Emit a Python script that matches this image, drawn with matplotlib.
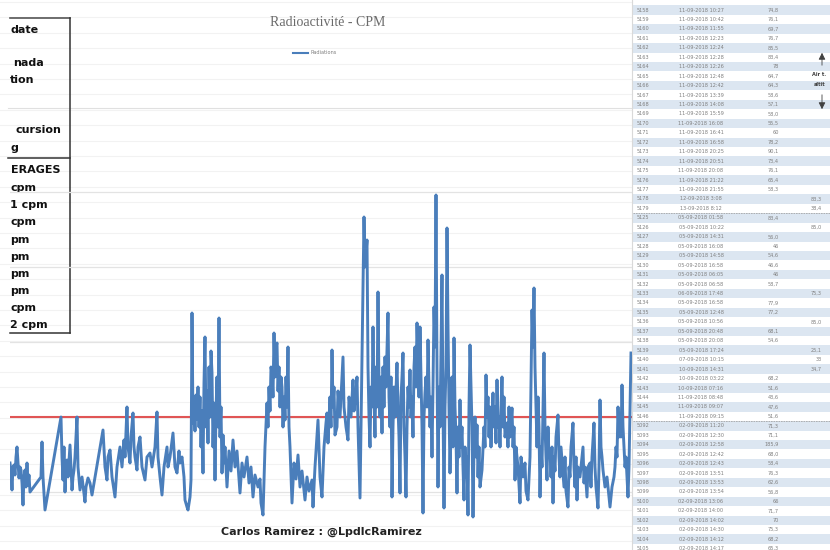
import matplotlib.pyplot as plt

# ---- data ----
# position along the record (time index) and counts per minute, in chunks
t1 = [0, 1, 2, 3, 4, 5, 6, 7, 8, 9, 10, 11, 12, 13, 14, 15, 16, 17, 18, 19,
      20, 31, 32, 33, 35, 51, 52, 53, 54, 55, 56, 57, 58, 60, 61, 62, 63, 64, 65, 67,
      68, 70, 72, 75, 76, 78, 80, 82, 93, 95, 97, 98, 100, 102, 105, 107, 110, 112, 114, 115,
      117, 118, 120, 121, 123, 124, 125, 127, 128, 130, 132, 135, 137, 140, 142, 145, 147, 148, 150, 152,
      154, 157, 158, 160, 163, 165, 167, 169, 170, 172, 174, 175, 177, 178, 180, 181]
c1 = [52, 48, 38.5, 50, 51, 46, 55, 60, 52, 44.5, 50, 48.5, 42, 31, 45, 48.5, 40, 52, 41, 46,
      37.5, 45, 62.5, 45, 28.5, 75, 55, 43.5, 60, 37.5, 50, 53.5, 45, 61, 50, 38.5, 45, 48.5, 55, 75,
      50, 38.5, 45, 32.5, 40, 44.5, 42, 36, 68.5, 50, 43.5, 55, 58.5, 45, 35, 50, 60, 50, 63.5, 55,
      80, 60, 52, 65, 77, 60, 55, 48.5, 60, 65, 50, 43.5, 55, 57, 50, 60, 77.5, 55, 45, 36,
      50, 60, 50, 55, 67, 50, 47, 58, 52, 55, 45, 33.5, 30, 28.5, 35, 43.5]

t2 = [182, 183, 184, 185, 186, 187, 188, 189, 190, 191, 192, 193, 194, 195, 196, 197, 198, 199, 200, 201,
      202, 203, 204, 205, 206, 207, 208, 209, 210, 211, 212, 213, 214, 215, 217, 219, 221, 223, 225, 227,
      230, 232, 234, 237, 239, 241, 243, 245, 248, 250, 251, 253]
c2 = [127, 72, 80, 68, 86, 74, 90, 70, 85, 60, 78, 47, 92, 115, 70, 88, 62, 100, 75, 108,
      97, 60, 82, 43.5, 78, 95, 70, 124.5, 65, 80, 47, 66, 52, 60, 40, 58, 48, 63.5, 50, 58,
      37, 52, 45, 55, 42, 50, 35, 46, 40, 44, 32, 26]

t3 = [255, 257, 258, 259, 260, 261, 262, 263, 264, 265, 266, 267, 268, 269, 270, 271, 272, 273, 274, 275,
      276, 277, 278, 279, 280, 282, 284, 286, 288, 290, 292, 295, 297, 299, 302, 303, 305, 308, 310, 312,
      314, 316, 317, 318, 320, 321, 322, 323, 324, 325, 327, 328, 330, 333, 334, 336, 338, 339, 341, 343,
      344, 346, 347, 348, 350]
c3 = [60, 82, 70, 90, 78, 100, 97, 85, 117, 95, 110, 112, 88, 100, 80, 95, 90, 70, 85, 73.5,
      95, 80, 110, 70, 60, 32, 52, 44, 56, 40, 48, 33.5, 45, 38, 43.5, 30, 50, 73.5, 45, 35,
      60, 72, 77, 62, 85, 70, 108.5, 80, 90, 66, 70, 88, 75, 105, 80, 70, 63.5, 85, 75, 93.5,
      78, 88, 95, 70, 34.5]

t4 = [354, 355, 357, 358, 359, 360, 361, 362, 363, 364, 365, 366, 367, 368, 369, 370, 371, 372, 373, 374,
      375, 376, 378, 379, 380, 381, 382, 383, 384, 385, 387, 388, 389, 390, 391, 392, 393, 394, 395, 396,
      397, 398, 399, 400, 401, 402, 403, 404, 405, 406, 407, 408, 409, 410, 411, 412, 413, 414, 415, 416,
      417, 418, 419, 420, 421, 422, 423, 424, 425, 426, 427, 428, 429, 430, 431, 432, 433, 434, 435, 436,
      437, 438, 439, 440, 441, 442, 443, 444, 445, 446, 447, 448, 449, 450, 451, 452, 453, 454, 455, 456,
      457, 458, 459, 460, 461, 462, 463, 464, 465, 466, 467, 468, 469, 470, 472]
c4 = [175, 150, 163.5, 100, 75, 60, 90, 80, 120, 85, 65, 100, 80, 137.5, 90, 75, 95, 67, 100, 80,
      105, 90, 127, 85, 70, 95, 35, 70, 90, 75, 102, 80, 65, 37, 85, 95, 107, 70, 55, 35,
      70, 90, 80, 98.5, 75, 85, 65, 100, 110, 90, 122, 105, 85, 120, 95, 70, 27, 75, 87, 95,
      80, 113.5, 90, 70, 85, 55, 90, 130, 110, 186, 100, 40, 90, 70, 110, 146, 80, 29.5, 80, 100,
      169.5, 120, 80, 47, 70, 95, 60, 114.5, 80, 65, 37, 70, 55, 83.5, 60, 70, 50, 33.5, 60, 45,
      55, 26, 80, 111, 90, 70, 25, 60, 75, 55, 71, 45, 60, 40, 48.5]

t5 = [474, 475, 476, 477, 478, 479, 480, 481, 482, 483, 484, 485, 486, 487, 488, 489, 490, 491, 492, 493,
      494, 495, 497, 498, 499, 500, 502, 503, 504, 505, 506, 508, 510, 511, 513, 515, 516, 518, 520, 521,
      522, 523, 524, 525, 526, 527, 528, 529, 530]
c5 = [70, 60, 96, 75, 85, 65, 80, 60, 75, 87, 70, 80, 62, 93.5, 70, 75, 60, 80, 95, 70,
      85, 65, 72, 60, 80, 65, 79.5, 60, 70, 43.5, 60, 50, 32, 55, 45, 52, 38, 33.5, 55, 90,
      128.5, 110, 139.5, 100, 80, 60, 85, 70, 35]

t6 = [531, 532, 533, 534, 535, 536, 537, 538, 539, 540, 541, 542, 543, 544, 545, 546, 548, 549, 550, 551,
      553, 554, 555, 556, 558, 559, 560, 561, 563, 564, 565, 566, 567, 568, 570, 572, 573, 574, 575, 577,
      578, 580, 581, 582, 584, 585, 586, 588, 589, 590, 591, 592, 593, 595, 597, 599, 600, 602, 604, 605,
      606, 607, 608, 609, 610, 611, 612, 613, 614, 615, 616, 617, 618, 619, 620, 621]
c6 = [60, 50, 80, 107, 70, 55, 43.5, 70, 55, 58.5, 45, 60, 32, 55, 48, 65, 76, 55, 45, 60,
      47, 40, 55, 38, 30, 50, 45, 60, 72, 50, 40, 55, 33.5, 50, 45, 55, 60, 42, 50, 35,
      50, 52, 40, 55, 72, 50, 40, 29.5, 50, 83.5, 60, 55, 48.5, 40, 45, 35, 30, 40, 45, 50,
      60, 55, 80, 65, 75, 65, 91, 70, 60, 50, 55, 45, 35, 50, 80, 107]

t = t1 + t2 + t3 + t4 + t5 + t6
cpm = c1 + c2 + c3 + c4 + c5 + c6
cpm_average = 75
grid_levels = [37.5, 75, 112.5, 150, 187.5]

chart_title = "Radioactivité - CPM"
legend_label = "Radiations"
footer = "Carlos Ramirez : @LpdlcRamirez"

# what is left visible of the summary panel (its left part is off screen)
panel_labels = ["date", "nada", "tion", "cursion", "g", "ERAGES", "cpm", "1 cpm",
                "cpm", "pm", "pm", "pm", "pm", "cpm", "2 cpm"]
panel_rows = [30, 63, 80, 130, 148, 170, 188, 205, 222, 240, 257, 274, 291, 308, 325]
panel_x = {"nada": 13, "cursion": 15, "ERAGES": 11}

row_ids = ["5158", "5159", "5160", "5161", "5162", "5163", "5164", "5165", "5166", "5167",
           "5168", "5169", "5170", "5171", "5172", "5173", "5174", "5175", "5176", "5177",
           "5178", "5179", "5125", "5126", "5127", "5128", "5129", "5130", "5131", "5132",
           "5133", "5134", "5135", "5136", "5137", "5138", "5139", "5140", "5141", "5142",
           "5143", "5144", "5145", "5146", "5092", "5093", "5094", "5095", "5096", "5097",
           "5098", "5099", "5100", "5101", "5102", "5103", "5104", "5105"]
row_dates = ["11-09-2018 10:27", "11-09-2018 10:42", "11-09-2018 11:55", "11-09-2018 12:23",
             "11-09-2018 12:24", "11-09-2018 12:28", "11-09-2018 12:26", "11-09-2018 12:48",
             "11-09-2018 12:42", "11-09-2018 13:39", "11-09-2018 14:08", "11-09-2018 15:59",
             "11-09-2018 16:08", "11-09-2018 16:41", "11-09-2018 16:58", "11-09-2018 20:25",
             "11-09-2018 20:51", "11-09-2018 20:08", "11-09-2018 21:22", "11-09-2018 21:55",
             "12-09-2018 3:08", "13-09-2018 8:12", "05-09-2018 01:58", "05-09-2018 10:22",
             "05-09-2018 14:31", "05-09-2018 16:08", "05-09-2018 14:58", "05-09-2018 16:58",
             "05-09-2018 06:05", "05-09-2018 06:58", "06-09-2018 17:48", "05-09-2018 16:58",
             "05-09-2018 12:48", "05-09-2018 10:56", "05-09-2018 20:48", "05-09-2018 20:08",
             "05-09-2018 17:24", "07-09-2018 10:15", "10-09-2018 14:31", "10-09-2018 03:22",
             "10-09-2018 07:16", "11-09-2018 08:48", "11-09-2018 09:07", "11-09-2018 09:15",
             "02-09-2018 11:20", "02-09-2018 12:30", "02-09-2018 12:58", "02-09-2018 12:42",
             "02-09-2018 12:43", "02-09-2018 13:51", "02-09-2018 13:53", "02-09-2018 13:54",
             "02-09-2018 13:06", "02-09-2018 14:00", "02-09-2018 14:02", "02-09-2018 14:30",
             "02-09-2018 14:12", "02-09-2018 14:17"]
row_values = ["74,8", "76,1", "69,7", "76,7", "85,5", "83,4", "78", "64,7", "64,3", "58,6",
              "57,1", "58,0", "55,5", "60", "78,2", "90,1", "73,4", "76,1", "65,4", "58,3",
              "", "", "83,4", "", "56,0", "46", "54,6", "46,6", "46", "58,7",
              "", "77,9", "77,2", "", "68,1", "54,6", "", "", "", "68,2",
              "51,6", "43,6", "47,6", "51,6", "71,3", "71,1", "185,9", "68,0", "58,4", "76,3",
              "62,6", "56,8", "66", "71,7", "70", "75,3", "68,2", "65,3"]
row_extra = {20: "83,3", 21: "38,4", 23: "85,0", 30: "75,3", 33: "85,0",
             36: "25,1", 37: "33", 38: "34,7"}

fig = plt.figure(figsize=(8.3, 5.5), dpi=100)

# background sheet (pixel coordinates)
bg = fig.add_axes([0, 0, 1, 1])
bg.set_xlim(0, 830)
bg.set_ylim(550, 0)
bg.axis("off")

# faint spreadsheet rows behind the chart
y = 2
while y < 550:
    bg.plot([0, 632], [y, y], color="#f2f2f2", lw=0.8, zorder=0)
    y += 15.4

# right hand table
pitch = 9.45
for i, rid in enumerate(row_ids):
    yc = 10 + i * pitch
    if i % 2 == 0:
        bg.fill_between([633, 830], yc - pitch / 2, yc + pitch / 2, color="#dce6f1", lw=0, zorder=1)
    bg.text(637, yc, rid, fontsize=3.6, color="#7f7f7f", va="center", zorder=2)
    bg.text(701, yc, row_dates[i], fontsize=3.6, color="#7f7f7f", va="center", ha="center", zorder=2)
    bg.text(779, yc, row_values[i], fontsize=3.6, color="#7f7f7f", va="center", ha="right", zorder=2)
    if i in row_extra:
        bg.text(822, yc, row_extra[i], fontsize=3.6, color="#7f7f7f", va="center", ha="right", zorder=2)
for i in (22, 44):
    ys = 10 + (i - 0.5) * pitch
    bg.plot([633, 830], [ys, ys], color="#a6a6a6", lw=0.6, ls=(0, (2, 1)), zorder=2)
bg.plot([632, 632], [0, 550], color="#d9d9d9", lw=0.8, zorder=2)

# arrow note in the table
bg.annotate("", xy=(822, 50), xytext=(822, 68), arrowprops=dict(arrowstyle="-|>", color="#404040", lw=0.6))
bg.annotate("", xy=(822, 112), xytext=(822, 92), arrowprops=dict(arrowstyle="-|>", color="#404040", lw=0.6))
bg.text(812, 75, "Air t.", fontsize=3.6, color="#404040", fontweight="bold", va="center")
bg.text(814, 84, "altit", fontsize=3.6, color="#404040", fontweight="bold", va="center")

# left summary panel
for lab, yr in zip(panel_labels, panel_rows):
    bg.text(panel_x.get(lab, 10), yr, lab, fontsize=8, fontweight="bold", color="#111111",
            va="center", zorder=3)
bg.plot([10, 70], [18, 18], color="#555555", lw=1.2, zorder=3)
bg.plot([70, 70], [18, 333], color="#333333", lw=1.1, zorder=3)
bg.plot([10, 70], [333, 333], color="#333333", lw=1.1, zorder=3)
bg.plot([8, 70], [158, 158], color="#333333", lw=1.1, zorder=3)
bg.plot([8, 632], [108, 108], color="#e0e0e0", lw=0.8, zorder=1)

# chart
ax = fig.add_axes([10 / 830, 20 / 550, 622 / 830, 350 / 550])
ax.patch.set_alpha(0)
for lv in grid_levels:
    ax.axhline(lv, color="#e3e3e3", lw=0.9, zorder=0)
ax.plot(t, cpm, color="#4a7ebb", lw=2.1, zorder=3)
ax.plot([t[0], t[-1]], [cpm_average, cpm_average], color="#e05555", lw=1.5, zorder=2)
ax.set_xlim(0, 622)
ax.set_ylim(18.5, 193.5)
ax.axis("off")

# titles and legend
bg.text(328, 22, chart_title, fontsize=10, family="Liberation Serif", color="#6b6b6b",
        ha="center", va="center", zorder=4)
bg.plot([293, 308], [53, 53], color="#4a7ebb", lw=1.5, zorder=4)
bg.text(310, 53, legend_label, fontsize=3.6, color="#7f7f7f", va="center", zorder=4)
bg.text(321, 532, footer, fontsize=8, fontweight="bold", color="#222222",
        ha="center", va="center", zorder=4)

fig.savefig("out.png", dpi=100)
